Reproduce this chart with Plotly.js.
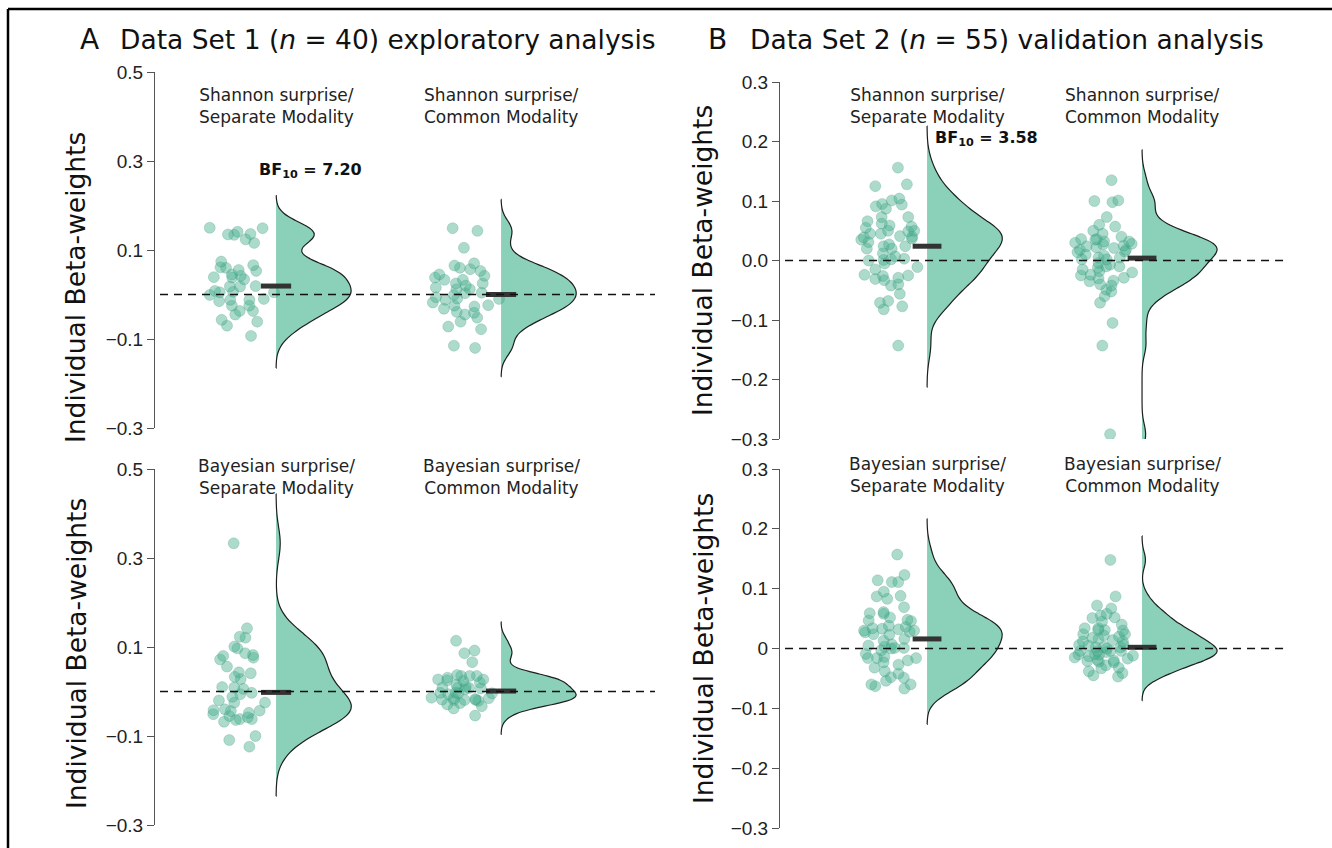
<!DOCTYPE html>
<html><head><meta charset="utf-8">
<script src="https://cdn.plot.ly/plotly-3.0.1.min.js"></script>
<style>html,body{margin:0;padding:0;background:#fff}#chart{width:1332px;height:848px}</style>
</head><body><div id="chart"></div>
<script>
// ---------------- data ----------------
const groupLabels = ["Separate Modality", "Common Modality"];
const surpriseLabels = ["Shannon surprise/", "Bayesian surprise/"];
const panelLetters = ["A", "B"];
const panelTitles = ["Data Set 1 (<i>n</i> = 40) exploratory analysis",
                     "Data Set 2 (<i>n</i> = 55) validation analysis"];
const yTitle = "Individual Beta-weights";
const bfLabels = ["BF<sub>10</sub> = 7.20", "BF<sub>10</sub> = 3.58"];

const ds1ShannonSeparate = [0.149,0.135,0.134,0.136,0.116,0.124,0.150,0.141,0.074,0.061,
  0.053,0.066,0.055,0.045,0.042,0.038,0.039,0.034,0.019,0.018,
  0.008,0.005,0.005,0.006,-0.001,-0.012,-0.012,-0.010,-0.025,-0.025,
  -0.037,-0.037,-0.045,-0.057,-0.061,-0.070,-0.093,-0.015,0.018,0.060];
const ds1ShannonCommon = [0.143,0.149,0.105,0.065,0.053,0.057,0.038,0.042,0.033,0.033,
  0.025,0.012,0.016,0.012,0.003,-0.001,-0.010,-0.009,0.004,-0.006,
  -0.012,-0.024,-0.025,-0.041,-0.039,-0.052,-0.061,-0.072,-0.078,-0.120,
  -0.115,-0.027,0.045,0.020,-0.032,0.060,-0.045,0.025,-0.018,0.070];
const ds1BayesSeparate = [0.333,0.142,0.121,0.123,0.097,0.101,0.082,0.080,0.072,0.076,
  0.086,0.056,0.041,0.043,0.033,0.028,0.009,0.010,-0.003,0.006,
  -0.006,-0.025,-0.025,-0.044,-0.051,-0.043,-0.055,-0.062,-0.068,-0.048,
  -0.042,-0.040,-0.064,-0.062,-0.100,-0.109,-0.124,-0.012,-0.020,-0.058];
const ds1BayesCommon = [0.114,0.092,0.086,0.066,0.035,0.035,0.035,0.037,0.027,0.024,
  0.027,0.031,0.020,0.011,0.009,0.009,0.007,0.005,-0.002,-0.004,
  -0.004,-0.003,-0.014,-0.015,-0.019,-0.018,-0.021,-0.019,-0.019,-0.017,
  -0.029,-0.033,-0.038,-0.054,0.015,0.008,0.025,-0.006,-0.015,-0.026];
const ds2ShannonSeparate = [0.156,0.128,0.125,0.104,0.101,0.095,0.091,0.087,0.073,0.073,
  0.062,0.066,0.059,0.050,0.049,0.057,0.041,0.037,0.039,0.040,
  0.031,0.024,0.024,0.027,0.012,0.007,0.002,0.000,0.003,0.001,
  -0.011,-0.015,-0.024,-0.025,-0.026,-0.029,-0.031,-0.040,-0.042,-0.056,
  -0.068,-0.082,-0.077,-0.071,-0.143,0.094,0.035,0.020,0.055,0.020,
  -0.005,-0.033,0.045,0.050,0.045];
const ds2ShannonCommon = [0.135,0.100,0.101,0.098,0.073,0.057,0.036,0.032,0.036,0.032,
  0.021,0.028,0.027,0.024,0.018,0.018,0.014,0.010,0.008,0.005,
  0.002,0.002,-0.004,0.005,-0.010,-0.007,-0.012,-0.015,-0.018,-0.024,
  -0.029,-0.034,-0.049,-0.042,-0.052,-0.060,-0.071,-0.105,-0.143,-0.292,
  0.045,0.030,-0.025,0.040,-0.035,0.015,-0.020,0.050,0.025,-0.040,
  -0.010,0.035,0.060,-0.030,0.022];
const ds2BayesSeparate = [0.157,0.111,0.114,0.123,0.111,0.095,0.087,0.088,0.083,0.069,
  0.059,0.058,0.061,0.052,0.046,0.048,0.038,0.032,0.033,0.036,
  0.024,0.030,0.016,0.023,0.027,0.003,0.005,0.001,0.000,-0.003,
  -0.009,-0.014,-0.016,-0.016,-0.016,-0.023,-0.027,-0.032,-0.038,-0.042,
  -0.049,-0.048,-0.054,-0.060,-0.060,-0.063,-0.067,0.034,0.001,0.028,
  0.030,0.013,0.007,0.047,-0.020];
const ds2BayesCommon = [0.148,0.087,0.067,0.072,0.058,0.052,0.055,0.051,0.045,0.040,
  0.034,0.031,0.034,0.031,0.030,0.020,0.018,0.016,0.012,0.012,
  0.005,0.002,0.002,0.000,0.003,-0.006,-0.009,-0.013,-0.012,-0.010,
  -0.010,-0.020,-0.017,-0.015,-0.022,-0.028,-0.033,-0.032,-0.041,-0.045,
  -0.047,-0.038,0.006,-0.004,-0.004,-0.004,-0.004,0.024,0.024,0.022,
  0.014,-0.019,-0.021,-0.023,0.006];

const mediansDS1Shannon = [0.019, 0.000];
const mediansDS1Bayes = [-0.002, 0.001];
const mediansDS2Shannon = [0.024, 0.004];
const mediansDS2Bayes = [0.016, 0.002];

const tickValsDS1 = [0.5, 0.3, 0.1, -0.1, -0.3];
const tickTextDS1 = ["0.5", "0.3", "0.1", "\u22120.1", "\u22120.3"];
const tickValsDS2 = [0.3, 0.2, 0.1, 0, -0.1, -0.2, -0.3];
const tickTextDS2Top = ["0.3", "0.2", "0.1", "0.0", "\u22120.1", "\u22120.2", "\u22120.3"];
const tickTextDS2Bottom = ["0.3", "0.2", "0.1", "0", "\u22120.1", "\u22120.2", "\u22120.3"];
const rangeDS1 = [-0.3, 0.5];
const rangeDS2 = [-0.3, 0.3];

// ---------------- helpers ----------------
const W = 1332, H = 848;
const px = v => v / W;
const py = v => 1 - v / H;

function quantile(sorted, p) {
  const h = (sorted.length - 1) * p, lo = Math.floor(h), hi = Math.ceil(h);
  return sorted[lo] + (sorted[hi] - sorted[lo]) * (h - lo);
}
function nrd0(arr) {
  const s = arr.slice().sort((a, b) => a - b);
  const n = s.length, mean = s.reduce((a, b) => a + b, 0) / n;
  const sd = Math.sqrt(s.reduce((a, b) => a + (b - mean) * (b - mean), 0) / (n - 1));
  const iqr = quantile(s, 0.75) - quantile(s, 0.25);
  return 0.9 * Math.min(sd, iqr / 1.34) * Math.pow(n, -0.2);
}

const FONT = "DejaVu Sans, Verdana, sans-serif";
const fillCol = "#8bd0b9";
const ptCol = "rgba(70,175,142,0.45)";

const panels = [
  {xa: "x",  ya: "y",  data: [ds1ShannonSeparate, ds1ShannonCommon], med: mediansDS1Shannon,
   xdom: [px(155), px(655)], ydom: [py(428), py(72)], xr: [-0.538, 1.684], yr: rangeDS1,
   tv: tickValsDS1, tt: tickTextDS1, label: surpriseLabels[0], labY: 106, vw: 0.667},
  {xa: "x2", ya: "y2", data: [ds1BayesSeparate, ds1BayesCommon], med: mediansDS1Bayes,
   xdom: [px(155), px(655)], ydom: [py(825), py(469)], xr: [-0.538, 1.684], yr: rangeDS1,
   tv: tickValsDS1, tt: tickTextDS1, label: surpriseLabels[1], labY: 477, vw: 0.667},
  {xa: "x3", ya: "y3", data: [ds2ShannonSeparate, ds2ShannonCommon], med: mediansDS2Shannon,
   xdom: [px(780), px(1285)], ydom: [py(439), py(82)], xr: [-0.684, 1.665], yr: rangeDS2,
   tv: tickValsDS2, tt: tickTextDS2Top, label: surpriseLabels[0], labY: 106, vw: 0.698},
  {xa: "x4", ya: "y4", data: [ds2BayesSeparate, ds2BayesCommon], med: mediansDS2Bayes,
   xdom: [px(780), px(1285)], ydom: [py(828), py(469)], xr: [-0.684, 1.665], yr: rangeDS2,
   tv: tickValsDS2, tt: tickTextDS2Bottom, label: surpriseLabels[1], labY: 475, vw: 0.698}
];

const traces = [];
const annotations = [];
const shapes = [];
const layout = {
  width: W, height: H, margin: {l: 0, r: 0, t: 0, b: 0},
  paper_bgcolor: "#fff", plot_bgcolor: "rgba(0,0,0,0)",
  showlegend: false, violinmode: "overlay", font: {family: FONT, color: "#222"},
  annotations: annotations, shapes: shapes
};

panels.forEach((p, pi) => {
  const xk = "xaxis" + (pi ? pi + 1 : ""), yk = "yaxis" + (pi ? pi + 1 : "");
  layout[xk] = {domain: p.xdom, range: p.xr, type: "linear", visible: false, anchor: p.ya, fixedrange: true};
  layout[yk] = {domain: p.ydom, range: p.yr, anchor: p.xa, tickvals: p.tv, ticktext: p.tt,
    ticks: "outside", ticklen: 7, tickcolor: "#555", tickwidth: 1, showline: true, linecolor: "#555",
    linewidth: 1, showgrid: false, zeroline: false, fixedrange: true,
    tickfont: {family: "Liberation Sans, Arial, sans-serif", size: 19, color: "#222"}};
  p.data.forEach((vals, g) => {
    const bw = nrd0(vals);
    const mn = Math.min(...vals), mx = Math.max(...vals);
    traces.push({type: "violin", x0: g, y: vals, xaxis: p.xa, yaxis: p.ya,
      side: "positive", width: p.vw, bandwidth: bw, spanmode: "manual", span: [mn - 3 * bw, mx + 3 * bw],
      scalemode: "width", points: "all", pointpos: -0.47, jitter: 0.5,
      fillcolor: fillCol, line: {color: "#1e1e1e", width: 1.2},
      marker: {color: ptCol, size: 11, line: {color: "rgba(40,130,100,0.35)", width: 0.6}},
      box: {visible: false}, meanline: {visible: false}, hoverinfo: "skip", name: groupLabels[g]});
    traces.push({type: "scatter", mode: "lines", x: [g - 0.067, g + 0.067], y: [p.med[g], p.med[g]],
      xaxis: p.xa, yaxis: p.ya, line: {color: "#333", width: 5}, hoverinfo: "skip"});
    annotations.push({xref: p.xa, yref: "paper", x: g, y: py(p.labY), xanchor: "center", yanchor: "middle",
      text: p.label + "<br>" + groupLabels[g], showarrow: false, font: {family: FONT, size: 17, color: "#222"}});
  });
  shapes.push({type: "line", xref: p.xa + " domain", yref: p.ya, x0: 0.01, x1: 1, y0: 0, y1: 0,
    line: {color: "#111", width: 1.4, dash: "8px,6px"}, layer: "above"});
});

// panel titles
annotations.push({xref: "paper", yref: "paper", x: px(89), y: py(40), text: panelLetters[0], showarrow: false,
  xanchor: "center", yanchor: "middle", font: {family: FONT, size: 28, color: "#111"}});
annotations.push({xref: "paper", yref: "paper", x: px(118), y: py(40), text: panelTitles[0], showarrow: false,
  xanchor: "left", yanchor: "middle", font: {family: FONT, size: 26.5, color: "#111"}});
annotations.push({xref: "paper", yref: "paper", x: px(717), y: py(40), text: panelLetters[1], showarrow: false,
  xanchor: "center", yanchor: "middle", font: {family: FONT, size: 28, color: "#111"}});
annotations.push({xref: "paper", yref: "paper", x: px(748), y: py(40), text: panelTitles[1], showarrow: false,
  xanchor: "left", yanchor: "middle", font: {family: FONT, size: 26.5, color: "#111"}});
// y titles
[[76, 288], [76, 654], [703, 261], [703, 649]].forEach(c => {
  annotations.push({xref: "paper", yref: "paper", x: px(c[0]), y: py(c[1]), text: yTitle, textangle: -90,
    showarrow: false, xanchor: "center", yanchor: "middle", font: {family: FONT, size: 26.5, color: "#111"}});
});
// Bayes factors
annotations.push({xref: "paper", yref: "paper", x: px(310), y: py(170), text: "<b>" + bfLabels[0] + "</b>",
  showarrow: false, xanchor: "center", yanchor: "middle", font: {family: FONT, size: 16, color: "#111"}});
annotations.push({xref: "paper", yref: "paper", x: px(986), y: py(139), text: "<b>" + bfLabels[1] + "</b>",
  showarrow: false, xanchor: "center", yanchor: "middle", font: {family: FONT, size: 16, color: "#111"}});

// outer frame
shapes.push({type: "line", xref: "paper", yref: "paper", x0: px(8), x1: 1, y0: py(9), y1: py(9),
  line: {color: "#000", width: 2.5}});
shapes.push({type: "line", xref: "paper", yref: "paper", x0: px(8), x1: px(8), y0: 0, y1: py(9),
  line: {color: "#000", width: 2.5}});

Plotly.newPlot("chart", traces, layout, {staticPlot: true, displayModeBar: false});
</script>
</body></html>
